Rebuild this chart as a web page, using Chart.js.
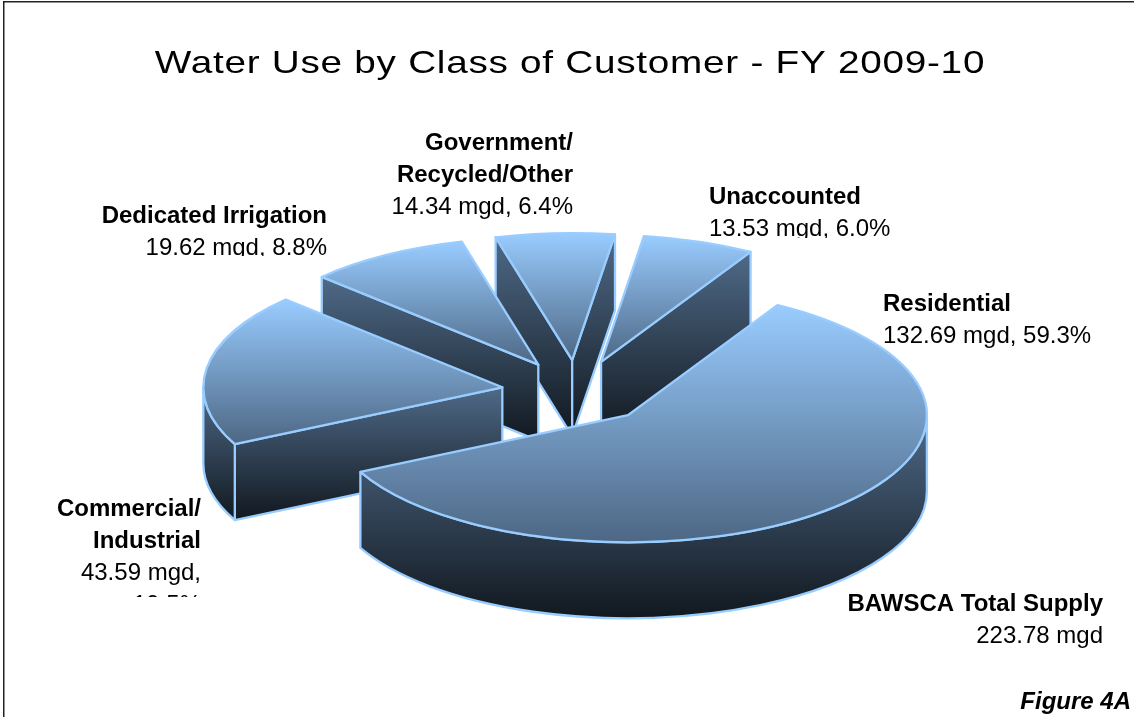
<!DOCTYPE html>
<html>
<head>
    <title>Water Use by Class of Customer - FY 2009-10</title>
    <script src="https://cdn.jsdelivr.net/npm/chart.js"></script>
    <style>
        html, body { margin: 0; padding: 0; background: #fff; }
        #wrap { width: 1134px; height: 717px; }
    </style>
</head>
<body>
    <div id="wrap"><canvas id="myChart" width="1134" height="717"></canvas></div>

    <script>
        // values
        var categories = ['Residential', 'Commercial/Industrial', 'Dedicated Irrigation', 'Government/Recycled/Other', 'Unaccounted'];
        var mgd = [132.69, 43.59, 19.62, 14.34, 13.53];

        var titleText = 'Water Use by Class of Customer - FY 2009-10';
        var figureText = 'Figure 4A';

        // look of the fake 3d pie
        var SQUASH = 0.425, EXPLODE = 75, DEPTH = 76;
        var drawOrder = [3, 4, 2, 1, 0]; // back to front
        var EDGE = '#99ccff';

        // text blocks: [text, bold], baseline of the first line, line step, optional clip bottom
        var textBlocks = [
            { x: 573, y: 150, align: 'right', lines: [['Government/', 1], ['Recycled/Other', 1], ['14.34 mgd, 6.4%', 0]] },
            { x: 327, y: 223, align: 'right', clip: 256, lines: [['Dedicated Irrigation', 1], ['19.62 mgd, 8.8%', 0]] },
            { x: 709, y: 204, align: 'left', clip: 238, lines: [['Unaccounted', 1], ['13.53 mgd, 6.0%', 0]] },
            { x: 883, y: 311, align: 'left', lines: [['Residential', 1], ['132.69 mgd, 59.3%', 0]] },
            { x: 201, y: 516, align: 'right', clip: 597, lines: [['Commercial/', 1], ['Industrial', 1], ['43.59 mgd,', 0], ['19.5%', 0]] },
            { x: 1103, y: 611, align: 'right', lines: [['BAWSCA Total Supply', 1], ['223.78 mgd', 0]] }
        ];

        function grad(ctx, y0, y1, c0, c1) {
            var g = ctx.createLinearGradient(0, y0, 0, y1);
            g.addColorStop(0, c0);
            g.addColorStop(1, c1);
            return g;
        }

        function drawWalls(ctx, cx, cy, r, a0, a1) {
            var k = SQUASH;
            var px0 = cx + r * Math.cos(a0), py0 = cy + r * k * Math.sin(a0);
            var px1 = cx + r * Math.cos(a1), py1 = cy + r * k * Math.sin(a1);
            var showStart = Math.cos(a0) < 0, showEnd = Math.cos(a1) > 0;
            var lo = Math.max(a0, 0), hi = Math.min(a1, Math.PI);

            var ys = [];
            if (showStart) ys.push(cy, py0);
            if (showEnd) ys.push(cy, py1);
            if (hi > lo) ys.push(cy + r * k * Math.sin(lo), cy + r * k * Math.sin(hi));
            if (hi > lo && lo < Math.PI / 2 && hi > Math.PI / 2) ys.push(cy + r * k);
            if (!ys.length) return;

            ctx.fillStyle = grad(ctx, Math.min.apply(null, ys), Math.max.apply(null, ys) + DEPTH, '#4f6a88', '#11181f');
            ctx.strokeStyle = EDGE;
            ctx.lineWidth = 2.3;
            ctx.lineJoin = 'round';

            function quad(x, y) {
                ctx.beginPath();
                ctx.moveTo(cx, cy);
                ctx.lineTo(x, y);
                ctx.lineTo(x, y + DEPTH);
                ctx.lineTo(cx, cy + DEPTH);
                ctx.closePath();
                ctx.fill();
                ctx.stroke();
            }
            if (showStart) quad(px0, py0);
            if (showEnd) quad(px1, py1);

            if (hi > lo) {
                ctx.beginPath();
                ctx.ellipse(cx, cy, r, r * k, 0, lo, hi);
                ctx.lineTo(cx + r * Math.cos(hi), cy + r * k * Math.sin(hi) + DEPTH);
                ctx.ellipse(cx, cy + DEPTH, r, r * k, 0, hi, lo, true);
                ctx.closePath();
                ctx.fill();
                ctx.stroke();
            }
        }

        var pie3d = {
            id: 'pie3d',
            beforeDatasetsDraw: function (chart) {
                var ctx = chart.ctx;
                var arcs = chart.getDatasetMeta(0).data;
                drawOrder.forEach(function (i) {
                    var arc = arcs[i];
                    var a0 = arc.startAngle, a1 = arc.endAngle, r = arc.outerRadius;
                    var mid = (a0 + a1) / 2;
                    var cx = arc.x + Math.cos(mid) * EXPLODE;
                    var cy = arc.y + Math.sin(mid) * EXPLODE * SQUASH;

                    drawWalls(ctx, cx, cy, r, a0, a1);

                    // top face height, in the arc's own unsquashed space
                    var minS = 0, maxS = 0;
                    for (var t = 0; t <= 60; t++) {
                        var s = Math.sin(a0 + (a1 - a0) * t / 60);
                        minS = Math.min(minS, s);
                        maxS = Math.max(maxS, s);
                    }
                    arc.options = Object.assign({}, arc.options, {
                        backgroundColor: grad(ctx, arc.y + minS * r, arc.y + maxS * r, '#99ccff', '#4d6784')
                    });

                    ctx.save();
                    ctx.translate(cx, cy);
                    ctx.scale(1, SQUASH);
                    ctx.translate(-arc.x, -arc.y);
                    arc.draw(ctx);
                    ctx.restore();

                    // outline stroked outside the squash so the width stays even
                    ctx.beginPath();
                    ctx.moveTo(cx, cy);
                    ctx.ellipse(cx, cy, r, r * SQUASH, 0, a0, a1);
                    ctx.closePath();
                    ctx.strokeStyle = EDGE;
                    ctx.lineWidth = 2.3;
                    ctx.lineJoin = 'round';
                    ctx.stroke();
                });
                return false;
            },
            afterDraw: function (chart) {
                var ctx = chart.ctx;
                ctx.save();

                // frame: only top and left are in the crop
                ctx.fillStyle = '#222';
                ctx.fillRect(3, 1, 1131, 1.5);
                ctx.fillRect(3, 1, 1.5, 716);

                // title, stretched like the original
                ctx.fillStyle = '#000';
                ctx.font = '32px "Liberation Sans"';
                ctx.textAlign = 'center';
                ctx.textBaseline = 'alphabetic';
                ctx.save();
                ctx.translate(570, 73);
                ctx.scale(1.21, 1);
                ctx.letterSpacing = '0.6px';
                ctx.fillText(titleText, 0, 0);
                ctx.restore();

                textBlocks.forEach(function (b) {
                    ctx.save();
                    if (b.clip) {
                        ctx.beginPath();
                        ctx.rect(0, 0, 1134, b.clip);
                        ctx.clip();
                    }
                    ctx.textAlign = b.align;
                    b.lines.forEach(function (l, n) {
                        ctx.font = (l[1] ? 'bold ' : '') + '24px "Liberation Sans"';
                        ctx.fillText(l[0], b.x, b.y + n * 32);
                    });
                    ctx.restore();
                });

                ctx.font = 'italic bold 24px "Liberation Sans"';
                ctx.textAlign = 'right';
                ctx.fillText(figureText, 1131, 709);
                ctx.restore();
            }
        };

        var ctx = document.getElementById('myChart').getContext('2d');
        var myChart = new Chart(ctx, {
            type: 'pie',
            data: {
                labels: categories,
                datasets: [{ data: mgd, backgroundColor: EDGE, borderWidth: 0 }]
            },
            options: {
                responsive: false,
                animation: false,
                events: [],
                rotation: 30,
                radius: 299,
                layout: { padding: { left: 19, top: 67 } },
                plugins: {
                    legend: { display: false },
                    tooltip: { enabled: false }
                }
            },
            plugins: [pie3d]
        });
    </script>
</body>
</html>
